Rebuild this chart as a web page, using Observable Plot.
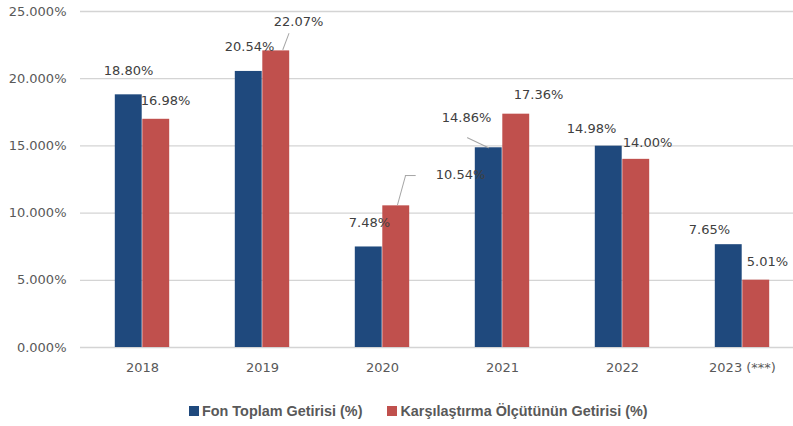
<!DOCTYPE html>
<html>
<head>
<meta charset="utf-8">
<script src="https://cdn.jsdelivr.net/npm/d3@7"></script>
<script src="https://cdn.jsdelivr.net/npm/@observablehq/plot@0.6"></script>
<style>
  body { margin: 0; background: #fff; }
  #chart svg { display: block; }
  .legend { display: flex; align-items: center; margin-left: 189px; margin-top: 18px;
    font-family: "Liberation Sans", Arial, sans-serif; font-weight: bold; font-size: 14.4px; color: #595959; }
  .legend .sw { width: 10px; height: 10px; display: inline-block; margin-right: 3px; }
  .legend .item { display: flex; align-items: center; margin-right: 25px; }
</style>
</head>
<body>
<div id="chart"></div>
<script>
// ---- data ----
const years = ["2018", "2019", "2020", "2021", "2022", "2023 (***)"];
const fundReturn = [18.80, 20.54, 7.48, 14.86, 14.98, 7.65];
const benchReturn = [16.98, 22.07, 10.54, 17.36, 14.00, 5.01];
const seriesNames = ["Fon Toplam Getirisi (%)", "Karşılaştırma Ölçütünün Getirisi (%)"];
const yTicks = [0, 5, 10, 15, 20, 25];

// ---- style / layout ----
const colors = ["#1F497D", "#C0504D"];
const font = "DejaVu Sans, sans-serif";
// label nudges (pixels) per year, per series [fund, bench]
const labelNudge = [
  [[-14, -24], [23, -18]],
  [[-13, -25], [36, -29]],
  [[-13, -24], [78, -31]],
  [[-36, -30], [36, -19]],
  [[-31, -17], [25, -17]],
  [[-33, -15], [25, -18]]
];
// leader lines: [yearIndex, seriesIndex, dx, dy, length, rotate]
const leaders = [
  [1, 1, 20.4, -1.4, 17, 20.6],
  [2, 1, 15, -1, 30, 15.4],
  [2, 1, 22.8, -30.3, 10, 90],
  [3, 0, -14, 0, 23.3, -64.5]
];

const rows = years.flatMap((yr, i) => [
  {year: yr, s: 0, series: seriesNames[0], value: fundReturn[i], i},
  {year: yr, s: 1, series: seriesNames[1], value: benchReturn[i], i}
]);

const lineShape = {draw(context, l) { context.moveTo(0, 0); context.lineTo(0, -l); }};

const labelMarks = rows.map(d => Plot.text([d], {
  x: "year", y: "value", text: r => r.value.toFixed(2) + "%",
  dx: labelNudge[d.i][d.s][0], dy: labelNudge[d.i][d.s][1],
  fill: "#404040", fontSize: 13, fontFamily: font, textAnchor: "middle"
}));

const leaderMarks = leaders.map(([yi, si, dx, dy, len, rot]) => Plot.vector(
  rows.filter(r => r.i === yi && r.s === si), {
    x: "year", y: "value", length: len, rotate: rot, anchor: "start",
    dx, dy, stroke: "#a6a6a6", strokeWidth: 1, shape: lineShape
  }));

const chart = Plot.plot({
  width: 793,
  height: 385,
  marginLeft: 80,
  marginRight: 0,
  marginTop: 11,
  marginBottom: 38,
  style: {fontFamily: font, fontSize: "13px", color: "#595959", background: "#fff"},
  x: {type: "band", domain: years, range: [80.7, 804.3], padding: 0, label: null},
  y: {domain: [0, 25], label: null},
  marks: [
    Plot.ruleY(yTicks, {stroke: "#d4d4d4", strokeWidth: 1.3}),
    Plot.barY(rows.filter(r => r.s === 0), {x: "year", y: "value", fill: colors[0], insetLeft: 32.8, insetRight: 60.3}),
    Plot.barY(rows.filter(r => r.s === 1), {x: "year", y: "value", fill: colors[1], insetLeft: 60.3, insetRight: 32.8}),
    Plot.axisY({ticks: yTicks, tickFormat: d => d.toFixed(3) + "%", tickSize: 0, tickPadding: 14, fill: "#595959", fontSize: 13}),
    Plot.axisX({tickSize: 0, tickPadding: 15, fill: "#595959", fontSize: 13}),
    ...leaderMarks,
    ...labelMarks
  ]
});
document.getElementById("chart").appendChild(chart);

const legend = document.createElement("div");
legend.className = "legend";
seriesNames.forEach((name, k) => {
  const item = document.createElement("span");
  item.className = "item";
  const sw = document.createElement("span");
  sw.className = "sw";
  sw.style.background = colors[k];
  item.appendChild(sw);
  item.appendChild(document.createTextNode(name));
  legend.appendChild(item);
});
document.body.appendChild(legend);
</script>
</body>
</html>
